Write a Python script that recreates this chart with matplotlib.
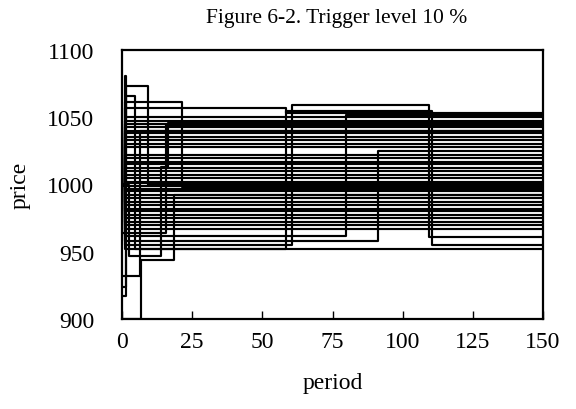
import matplotlib
matplotlib.use("Agg")
import matplotlib.pyplot as plt

# ---------------- data ----------------
# price paths that stay at one level from period 1 to the end
flat_levels = [1047, 1045, 1043, 1040, 1038, 1035, 1033, 1030, 1028, 1022, 1020, 1017,
               1015, 1012, 1010, 1007, 1005, 1002, 1001, 999, 997, 995,
               992, 990, 987, 985, 982, 980, 977, 975, 972, 970, 967]

# price paths with jumps: change periods and the price from that period on
jump_periods = [
    [0, 1.0, 1.3],
    [0, 1.4, 9.3],
    [0, 1.6, 4.6],
    [0, 1.0, 21.5],
    [0, 6.6, 18.7],
    [0, 6.4],
    [0, 2.5, 14.0, 16.3],
    [0, 15.8],
    [0, 1.0, 58.5, 110.5],
    [0, 1.0, 60.5, 109.5],
    [0, 1.0, 79.8],
    [0, 1.0, 91.3],
    [0, 1.0, 58.5],
]
jump_prices = [
    [1000, 1081, 1050],
    [924, 1073, 1000],
    [917, 1066, 952],
    [1000, 1061, 998],
    [900, 944, 992],
    [932, 1040],
    [1000, 947, 1013, 1046],
    [964, 1044],
    [1000, 952, 1055, 955],
    [1000, 955, 1059, 961],
    [1000, 962, 1052],
    [1000, 958, 1025],
    [1000, 1057, 1053],
]

last_period = 150
title = "Figure 6-2. Trigger level 10 %"
x_ticks = [0, 25, 50, 75, 100, 125, 150]
y_ticks = [900, 950, 1000, 1050, 1100]

# ---------------- plot ----------------
plt.rcParams['font.family'] = ['Liberation Serif', 'DejaVu Serif']

fig = plt.figure(figsize=(5.76, 4.10), dpi=100)
ax = fig.add_axes([122/576, 1-320/410, (543-122)/576, (320-51)/410])

lw = 1.55
for lvl in flat_levels:
    ax.plot([0, 1, last_period], [1000, lvl, lvl], drawstyle='steps-post',
            color='black', lw=lw)
for per, pr in zip(jump_periods, jump_prices):
    ax.plot(list(per) + [last_period], list(pr) + [pr[-1]],
            drawstyle='steps-post', color='black', lw=lw)

ax.set_xlim(0, 150)
ax.set_ylim(900, 1100)
ax.set_xticks(x_ticks)
ax.set_yticks(y_ticks)
ax.tick_params(axis='x', direction='in', length=6, width=1, pad=9, labelsize=17)
ax.tick_params(axis='y', length=0, pad=20, labelsize=17)
for s in ax.spines.values():
    s.set_linewidth(1.6)
ax.set_xlabel('period', fontsize=17, labelpad=14)
ax.set_ylabel('price', fontsize=17, labelpad=12)
fig.text(0.585, 0.955, title, ha='center', va='center', fontsize=15.5)

fig.savefig('out.png', dpi=100)
